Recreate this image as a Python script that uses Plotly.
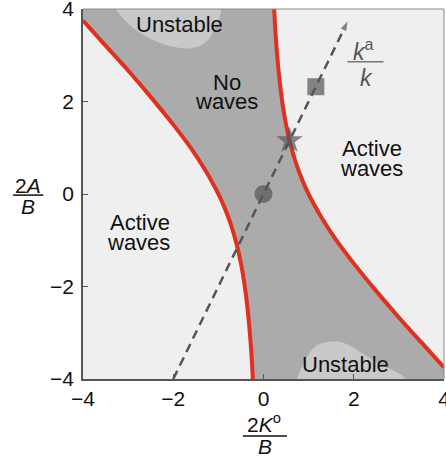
import plotly.graph_objects as go

# ---- data ----
left_x = [-4.00, -3.50, -3.00, -2.50, -2.00, -1.60, -1.30, -1.10, -0.95, -0.80,
          -0.70, -0.60, -0.50, -0.42, -0.36, -0.31, -0.27, -0.235]
left_y = [3.75, 3.21, 2.67, 2.10, 1.50, 0.98, 0.53, 0.19, -0.10, -0.45,
          -0.73, -1.07, -1.50, -1.96, -2.42, -2.92, -3.43, -4.02]

right_x = [0.235, 0.27, 0.31, 0.36, 0.42, 0.50, 0.60, 0.70, 0.80, 0.95,
           1.10, 1.30, 1.60, 2.00, 2.50, 3.00, 3.50, 4.00]
right_y = [4.02, 3.43, 2.92, 2.42, 1.96, 1.50, 1.07, 0.73, 0.45, 0.10,
           -0.19, -0.53, -0.98, -1.50, -2.10, -2.67, -3.21, -3.75]

top_blob_x = [-3.29, -2.89, -2.37, -1.92, -1.56, -1.26, -1.04, -0.93]
top_blob_y = [4.0, 3.59, 3.30, 3.17, 3.16, 3.30, 3.66, 4.0]

bot_blob_x = [0.74, 0.92, 1.14, 1.51, 1.81, 2.18, 2.58, 3.15]
bot_blob_y = [-4.0, -3.60, -3.30, -3.19, -3.23, -3.44, -3.68, -4.0]

path_x = [-2.0, 1.88]
path_y = [-4.0, 3.76]

pts_x = [0.0, 0.577, 1.16]
pts_y = [0.0, 1.155, 2.32]
pts_symbol = ["circle", "star", "square"]

tick_vals = [-4, -2, 0, 2, 4]
tick_text = ["\u22124", "\u22122", "0", "2", "4"]

BG = "#efefef"
DARK = "#ababab"
BLOB = "#c9c9c9"
RED = "#e0301e"
MARK = "#555555"
FONT = "Liberation Sans, Arial, sans-serif"

fig = go.Figure()

# dark "no waves" band between the two branches (closed beyond the axes)
poly_x = left_x + [-0.2, 4.7, 4.7] + right_x[::-1] + [0.2, -4.7, -4.7]
poly_y = left_y + [-4.7, -4.7, -4.45] + right_y[::-1] + [4.7, 4.7, 4.5]
fig.add_trace(go.Scatter(x=poly_x, y=poly_y, mode="lines", fill="toself",
                         fillcolor=DARK, line=dict(width=0, shape="spline"),
                         hoverinfo="skip", showlegend=False))

# unstable blobs
fig.add_trace(go.Scatter(x=top_blob_x + [-0.88, -3.4], y=top_blob_y + [4.6, 4.6],
                         mode="lines", fill="toself", fillcolor=BLOB,
                         line=dict(width=0, shape="spline"), hoverinfo="skip", showlegend=False))
fig.add_trace(go.Scatter(x=bot_blob_x + [3.2, 0.7], y=bot_blob_y + [-4.6, -4.6],
                         mode="lines", fill="toself", fillcolor=BLOB,
                         line=dict(width=0, shape="spline"), hoverinfo="skip", showlegend=False))

# red boundaries
for cx, cy in ((left_x, left_y), (right_x, right_y)):
    fig.add_trace(go.Scatter(x=cx, y=cy, mode="lines",
                             line=dict(color=RED, width=4, shape="spline"),
                             hoverinfo="skip", showlegend=False))

# dashed path with arrow head
fig.add_trace(go.Scatter(x=path_x, y=path_y, mode="lines+markers",
                         line=dict(color=MARK, width=2.5, dash="9px,6px"),
                         marker=dict(symbol=["circle", "arrow"], size=[0, 12],
                                     color=MARK, angleref="previous"),
                         hoverinfo="skip", showlegend=False))

# markers
fig.add_trace(go.Scatter(x=pts_x, y=pts_y, mode="markers",
                         marker=dict(symbol=pts_symbol, size=[18, 20, 17], color=MARK,
                                     line=dict(width=0)),
                         hoverinfo="skip", showlegend=False))

# region labels
labels = [
    ("Unstable", -1.86, 3.66),
    ("No", -0.80, 2.42),
    ("waves", -0.82, 1.99),
    ("Active", 2.40, 0.98),
    ("waves", 2.40, 0.545),
    ("Active", -2.74, -0.61),
    ("waves", -2.76, -1.04),
    ("Unstable", 1.81, -3.68),
]
for t, x, y in labels:
    fig.add_annotation(x=x, y=y, xref="x", yref="y", text=t, showarrow=False,
                       font=dict(family=FONT, size=22, color="#111111"),
                       xanchor="center", yanchor="middle")

# k^a / k label
fig.add_annotation(x=2.22, y=3.12, text="<i>k</i><sup>a</sup>", showarrow=False,
                   font=dict(family=FONT, size=23, color=MARK), xanchor="center", yanchor="middle")
fig.add_annotation(x=2.28, y=2.50, text="<i>k</i>", showarrow=False,
                   font=dict(family=FONT, size=23, color=MARK), xanchor="center", yanchor="middle")
fig.add_shape(type="line", x0=1.86, x1=2.66, y0=2.86, y1=2.86, xref="x", yref="y",
              line=dict(color="#777777", width=1.5))

# axis titles as fractions
fig.add_annotation(x=-0.152, y=0.522, xref="paper", yref="paper", text="2<i>A</i>",
                   showarrow=False, font=dict(family=FONT, size=21, color="#111111"),
                   xanchor="center", yanchor="middle")
fig.add_shape(type="line", x0=-0.194, x1=-0.110, y0=0.497, y1=0.497, xref="paper", yref="paper",
              line=dict(color="#111111", width=1.5))
fig.add_annotation(x=-0.152, y=0.465, xref="paper", yref="paper", text="<i>B</i>",
                   showarrow=False, font=dict(family=FONT, size=21, color="#111111"),
                   xanchor="center", yanchor="middle")

fig.add_annotation(x=0.501, y=-0.118, xref="paper", yref="paper", text="2<i>K</i><sup>o</sup>",
                   showarrow=False, font=dict(family=FONT, size=21, color="#111111"),
                   xanchor="center", yanchor="middle")
fig.add_shape(type="line", x0=0.443, x1=0.565, y0=-0.154, y1=-0.154, xref="paper", yref="paper",
              line=dict(color="#111111", width=1.5))
fig.add_annotation(x=0.503, y=-0.183, xref="paper", yref="paper", text="<i>B</i>",
                   showarrow=False, font=dict(family=FONT, size=21, color="#111111"),
                   xanchor="center", yanchor="middle")

# lighter top/right frame
fig.add_shape(type="line", x0=0, x1=1, y0=1, y1=1, xref="paper", yref="paper",
              line=dict(color="#8a8a8a", width=1))
fig.add_shape(type="line", x0=1, x1=1, y0=0, y1=1, xref="paper", yref="paper",
              line=dict(color="#8a8a8a", width=1))

axis_common = dict(range=[-4, 4], showgrid=False, zeroline=False, ticks="inside",
                   ticklen=5, tickwidth=1, tickcolor="#555555", showline=True,
                   linecolor="#555555", linewidth=1.5, tickvals=tick_vals, ticktext=tick_text,
                   tickfont=dict(family=FONT, size=21, color="#111111"), automargin=False,
                   ticklabeloverflow="allow")
fig.update_xaxes(**axis_common, ticklabelstandoff=0)
fig.update_yaxes(**axis_common, ticklabelstandoff=3)

fig.update_layout(width=446, height=464, margin=dict(l=83, r=2, t=9, b=85),
                  plot_bgcolor=BG, paper_bgcolor="white", showlegend=False)

fig.write_html("out.html", config={"displayModeBar": False},
               post_script="document.body.style.margin='0';document.body.style.overflow='hidden';")
